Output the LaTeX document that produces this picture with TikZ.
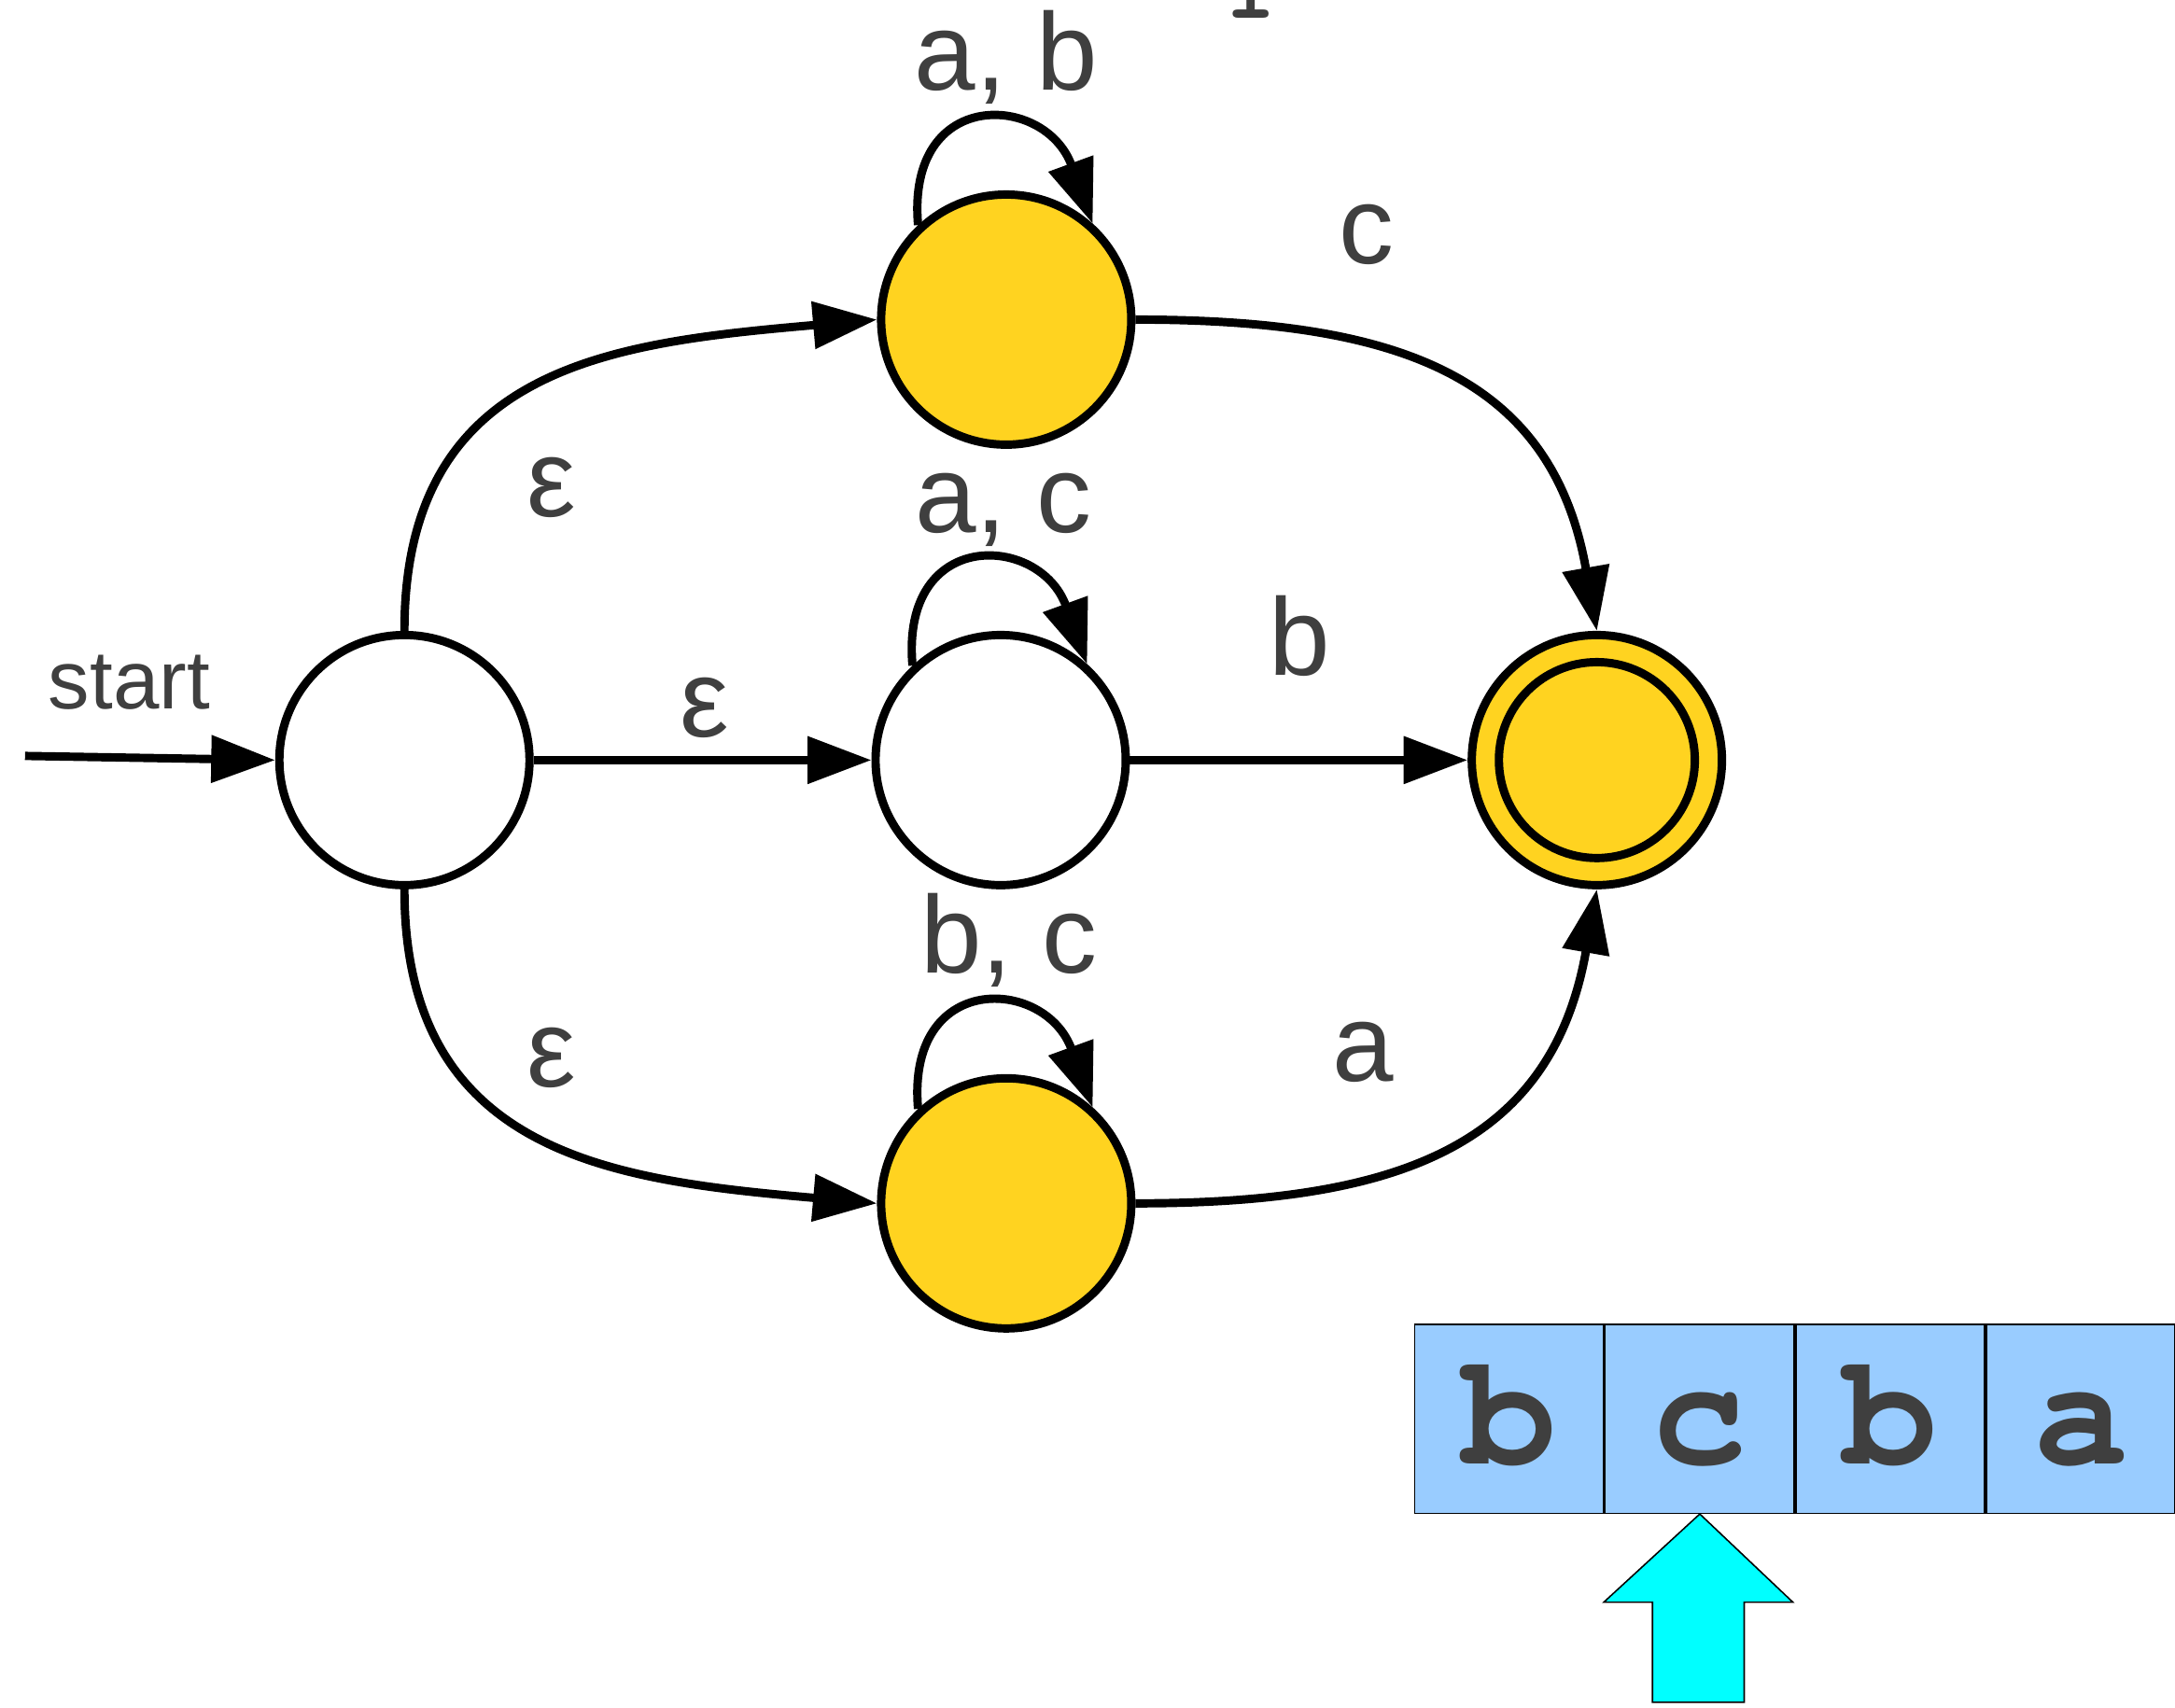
\documentclass[tikz,border=0pt]{standalone}
\usepackage{fontspec}
\setmainfont{Liberation Sans}
\newfontfamily\tapefont{texgyrecursor}[Extension=.otf,UprightFont=*-regular,BoldFont=*-bold]
\usetikzlibrary{arrows.meta,positioning}
\definecolor{stateyellow}{HTML}{FFD320}
\definecolor{tapeblue}{HTML}{99CCFF}
\definecolor{headcyan}{HTML}{00FFFF}
\definecolor{labelgray}{HTML}{3F3F3F}
\begin{document}
\begin{tikzpicture}
		[state/.style={circle,draw,line width=0.06cm,minimum size=1.8cm,inner sep=0pt},
		edge/.style={line width=0.06cm,-{Triangle[length=0.46cm,width=0.33cm]}},
		lbl/.style={anchor=base,text=labelgray,font=\fontsize{22.5}{27}\selectfont},
		cell/.style={draw,line width=0.3pt,fill=tapeblue,minimum width=1.36cm,minimum height=1.36cm,
			inner sep=0pt,text height=0.65cm,text depth=0cm,text=labelgray,
			font=\tapefont\bfseries\fontsize{32.5}{38}\selectfont},
		node distance=0pt
		]
		\useasboundingbox (0,0) rectangle (15.65,12.29);
		\node[state] (q0) at (2.91,6.82) {};
		\node[state,fill=stateyellow] (q1) at (7.24,9.99) {};
		\node[state] (q2) at (7.20,6.82) {};
		\node[state,fill=stateyellow] (q3) at (7.24,3.63) {};
		\node[state,fill=stateyellow] (q4) at (11.49,6.82) {};
		\node[state,minimum size=1.41cm] (q4in) at (q4) {};
		\coordinate (begin) at (0.18,6.85);
		\draw[edge] (begin) -- (q0.west);
		\draw[edge] (q0.north) to[out=90,in=185,looseness=1.2] (q1.west);
		\draw[edge] (q0.east) -- (q2.west);
		\draw[edge] (q0.south) to[out=-90,in=175,looseness=1.2] (q3.west);
		\draw[edge] (q1.east) to[out=0,in=100,looseness=1.2] (q4.north);
		\draw[edge] (q2.east) -- (q4.west);
		\draw[edge] (q3.east) to[out=0,in=-100,looseness=1.2] (q4.south);
		\draw[edge] (q1.133) to[out=95,in=110,distance=1cm] (q1.48);
		\draw[edge] (q2.133) to[out=95,in=110,distance=1cm] (q2.48);
		\draw[edge] (q3.133) to[out=95,in=110,distance=1cm] (q3.48);
		\node[lbl,font=\fontsize{17}{20}\selectfont] (lstart) at (0.93,7.19) {start};
		\node[lbl] (lab) at (7.24,11.64) {a, b};
		\node[lbl] (lc) at (9.83,10.39) {c};
		\node[lbl] (le1) at (3.97,8.57) {ε};
		\node[lbl] (lac) at (7.22,8.46) {a, c};
		\node[lbl] (lb) at (9.35,7.43) {b};
		\node[lbl] (le2) at (5.07,6.99) {ε};
		\node[lbl] (lbc) at (7.26,5.29) {b, c};
		\node[lbl] (le3) at (3.97,4.47) {ε};
		\node[lbl] (la) at (9.81,4.51) {a};
		\node[anchor=base,text=labelgray,font=\tapefont\bfseries\fontsize{17}{20}\selectfont] (cut) at (9.00,12.16) {I};
		\node[cell] (t1) at (10.86,2.08) {b};
		\node[cell,right=of t1] (t2) {c};
		\node[cell,right=of t2] (t3) {b};
		\node[cell,right=of t3] (t4) {a};
		\draw[line width=0.3pt,fill=headcyan] (t2.south) -- (12.90,0.76) -- (12.55,0.76) -- (12.55,0.04)
			-- (11.89,0.04) -- (11.89,0.76) -- (11.54,0.76) -- cycle;
\end{tikzpicture}
\end{document}
